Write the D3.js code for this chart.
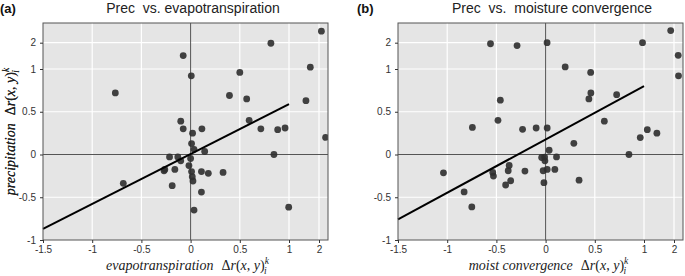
<!DOCTYPE html>
<html>
<head>
<meta charset="utf-8">
<script src="https://cdn.jsdelivr.net/npm/d3@7"></script>
<style>
  body { margin: 0; background: #fff; }
  .tick text { font-family: "Liberation Sans", Arial, sans-serif; font-size: 10px; fill: #333; }
  .tick line { stroke: #333; }
</style>
</head>
<body>
<script>
// tick values shared by both panels (axes are stretched linear up to 1, squeezed above)
const xTicks = [-1.5, -1, -0.5, 0, 0.5, 1, 2];
const yTicks = [-1, -0.5, 0, 0.5, 1, 2];

// (a) precipitation vs evapotranspiration
const evapX = [-0.765, -0.075, 0.007, -0.10, -0.075, 0.02, 0.115, 0.395, 0.50, 0.57,
               0.595, 0.714, 0.816, 0.885, 0.96, 1.565, 1.71, 2.08, 2.22, -0.684,
               -0.27, -0.262, -0.16, -0.187, -0.214, -0.13, -0.10, -0.017, 0.01, 0.035,
               0.143, 0.0, 0.01, 0.017, 0.024, 0.11, 0.18, 0.33, 0.11, 0.035,
               0.847, 0.997];
const evapY = [0.72, 1.51, 0.92, 0.39, 0.30, 0.25, 0.30, 0.69, 0.96, 0.65,
               0.40, 0.30, 1.98, 0.29, 0.31, 0.63, 1.07, 2.44, 0.20, -0.337,
               -0.19, -0.175, -0.175, -0.365, -0.028, -0.028, -0.074, -0.13, 0.128, 0.06,
               0.035, -0.047, -0.20, -0.26, -0.31, -0.20, -0.22, -0.21, -0.44, -0.65,
               0.0, -0.616];
const evapFit = [[-1.5, -0.87], [1, 0.59]];

// (b) precipitation vs moisture convergence
const moistX = [-0.56, -0.29, 0.015, -0.46, -0.484, -0.744, -0.234, -0.096, 0.016, 0.199,
                0.458, 0.46, 0.44, 0.722, 0.597, 0.985, 1.89, 2.14, 2.15, 1.11,
                1.43, 0.962, 0.287, 0.847, 0.036, -0.01, -0.007, 0.111, -0.025, 0.016,
                0.094, -0.017, 0.34, -0.04, -1.038, -0.828, -0.75, -0.537, -0.53, -0.37,
                -0.38, -0.355, -0.406, -0.21];
const moistY = [1.96, 1.89, 2.0, 0.635, 0.40, 0.317, 0.294, 0.31, 0.31, 1.08,
                0.96, 0.72, 0.65, 0.70, 0.39, 2.0, 2.46, 1.52, 0.92, 0.29,
                0.25, 0.198, 0.131, 0.0, 0.05, -0.03, -0.074, -0.028, -0.19, -0.175,
                -0.175, -0.33, -0.30, -0.035, -0.214, -0.438, -0.613, -0.21, -0.252, -0.128,
                -0.19, -0.307, -0.357, -0.194];
const moistFit = [[-1.5, -0.76], [1, 0.80]];

const width = 685, height = 276;
const svg = d3.select("body").append("svg")
    .attr("width", width)
    .attr("height", height);

function addMathLabel(t, word) {
    t.append("tspan").text(word);
    t.append("tspan").attr("dx", 8).attr("font-style", "normal").text("Δ");
    t.append("tspan").text("r");
    t.append("tspan").attr("font-style", "normal").text("(");
    t.append("tspan").text("x");
    t.append("tspan").attr("font-style", "normal").text(", ");
    t.append("tspan").text("y");
    t.append("tspan").attr("font-style", "normal").text(")");
    t.append("tspan").attr("dy", -6).attr("font-size", 9.5).text("k");
    t.append("tspan").attr("dx", -4.8).attr("dy", 9.5).attr("font-size", 9.5).text("i");
}

function drawPanel(cfg) {
    const w = 285, h = 217, top = 23;
    const x = d3.scaleLinear().domain([-1.5, 1, 2]).range([0, 246, 276]);
    const y = d3.scaleLinear().domain([-1, 1, 2]).range([h, 46, 19.7]);

    const g = svg.append("g").attr("transform", "translate(" + cfg.left + "," + top + ")");

    g.append("rect")
        .attr("width", w).attr("height", h)
        .attr("fill", "#e5e5e5");

    // white grid
    g.selectAll(".vgrid").data(xTicks.filter(d => d !== 0 && d !== -1.5))
      .enter().append("line")
        .attr("x1", d => x(d)).attr("x2", d => x(d))
        .attr("y1", 0).attr("y2", h)
        .attr("stroke", "#fff").attr("stroke-width", 1.2);
    g.selectAll(".hgrid").data(yTicks.filter(d => d !== 0 && d !== -1))
      .enter().append("line")
        .attr("y1", d => y(d)).attr("y2", d => y(d))
        .attr("x1", 0).attr("x2", w)
        .attr("stroke", "#fff").attr("stroke-width", 1.2);

    // zero lines
    g.append("line")
        .attr("x1", x(0)).attr("x2", x(0)).attr("y1", 0).attr("y2", h)
        .attr("stroke", "#555").attr("stroke-width", 1);
    g.append("line")
        .attr("x1", 0).attr("x2", w).attr("y1", y(0)).attr("y2", y(0))
        .attr("stroke", "#555").attr("stroke-width", 1);

    const clipId = "clip-" + cfg.tag;
    g.append("clipPath").attr("id", clipId)
      .append("rect").attr("width", w).attr("height", h);

    const pts = cfg.xs.map((v, i) => ({x: v, y: cfg.ys[i]}));
    g.append("g").attr("clip-path", "url(#" + clipId + ")")
      .selectAll("circle").data(pts)
      .enter().append("circle")
        .attr("cx", d => x(d.x))
        .attr("cy", d => y(d.y))
        .attr("r", 3.4)
        .attr("fill", "#2e2e2e")
        .attr("fill-opacity", 0.9);

    const line = d3.line().x(d => x(d[0])).y(d => y(d[1]));
    g.append("path")
        .attr("d", line(cfg.fit))
        .attr("fill", "none")
        .attr("stroke", "#000")
        .attr("stroke-width", 2);

    g.append("rect")
        .attr("width", w).attr("height", h)
        .attr("fill", "none")
        .attr("stroke", "#555").attr("stroke-width", 1);

    const fmt = d => String(d);
    g.append("g")
        .attr("transform", "translate(0," + h + ")")
        .call(d3.axisBottom(x).tickValues(xTicks).tickSize(3).tickPadding(3).tickFormat(fmt))
        .call(a => a.select(".domain").remove());
    g.append("g")
        .call(d3.axisLeft(y).tickValues(yTicks).tickSize(3).tickPadding(4).tickFormat(fmt))
        .call(a => a.select(".domain").remove());

    // panel tag and title
    svg.append("text")
        .attr("x", cfg.tagX).attr("y", 13)
        .style("font", "bold 13px 'Liberation Sans', Arial, sans-serif")
        .attr("fill", "#111")
        .text("(" + cfg.tag + ")");
    svg.append("text")
        .attr("x", cfg.titleX).attr("y", 13)
        .attr("text-anchor", "middle")
        .style("font", "14px 'Liberation Sans', Arial, sans-serif")
        .attr("fill", "#222")
        .attr("xml:space", "preserve")
        .text(cfg.title);

    // axis titles
    const xl = g.append("text")
        .attr("x", w / 2 + cfg.xLabelShift).attr("y", h + 30)
        .attr("text-anchor", "middle")
        .style("font-family", "'Liberation Serif', 'DejaVu Serif', serif")
        .style("font-style", "italic")
        .style("font-size", "14px")
        .attr("fill", "#222");
    addMathLabel(xl, cfg.xLabel);

    const yl = g.append("text")
        .attr("transform", "translate(" + (15 - cfg.left) + "," + (h / 2) + ") rotate(-90)")
        .attr("text-anchor", "middle")
        .style("font-family", "'Liberation Serif', 'DejaVu Serif', serif")
        .style("font-style", "italic")
        .style("font-size", "14px")
        .attr("fill", "#222");
    addMathLabel(yl, "precipitation");
}

drawPanel({
    tag: "a", left: 43, tagX: 0, titleX: 193,
    title: "Prec  vs. evapotranspiration",
    xLabel: "evapotranspiration", xLabelShift: 2,
    xs: evapX, ys: evapY, fit: evapFit
});

drawPanel({
    tag: "b", left: 398, tagX: 357, titleX: 552,
    title: "Prec  vs.  moisture convergence",
    xLabel: "moist convergence", xLabelShift: 8,
    xs: moistX, ys: moistY, fit: moistFit
});
</script>
</body>
</html>
